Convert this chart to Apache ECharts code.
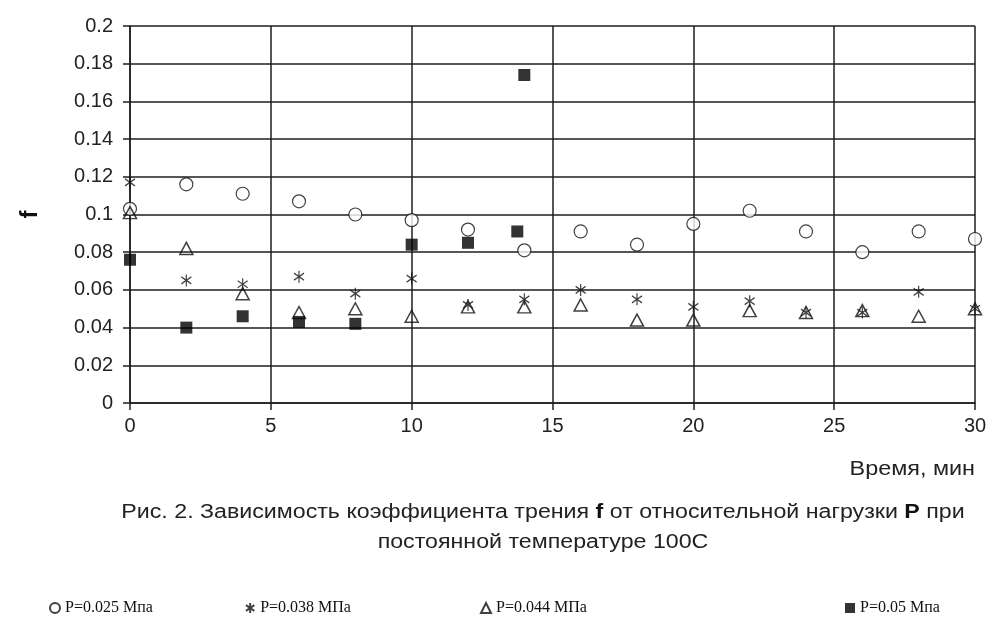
<!DOCTYPE html>
<html>
<head>
<meta charset="utf-8">
<script src="https://cdn.jsdelivr.net/npm/echarts@6/dist/echarts.min.js"></script>
<style>html,body{margin:0;padding:0;background:#fff}#c{width:990px;height:621px}</style>
</head>
<body>
<div id="c"></div>
<script>
// ---- data ----
const times = [0, 2, 4, 6, 8, 10, 12, 14, 16, 18, 20, 22, 24, 26, 28, 30];
const f025 = [0.103, 0.116, 0.111, 0.107, 0.100, 0.097, 0.092, 0.081, 0.091, 0.084, 0.095, 0.102, 0.091, 0.080, 0.091, 0.087];
const f038 = [0.117, 0.065, 0.063, 0.067, 0.058, 0.066, 0.052, 0.055, 0.060, 0.055, 0.051, 0.054, 0.048, 0.048, 0.059, 0.050];
const f044 = [0.101, 0.082, 0.058, 0.048, 0.050, 0.046, 0.051, 0.051, 0.052, 0.044, 0.044, 0.049, 0.048, 0.049, 0.046, 0.050];
const times05 = [0, 2, 4, 6, 8, 10, 12, 13.75, 14];
const f05 = [0.076, 0.040, 0.046, 0.043, 0.042, 0.084, 0.085, 0.091, 0.174];
const seriesNames = ['P=0.025 Мпа', 'P=0.038 МПа', 'P=0.044 МПа', 'P=0.05 Мпа'];
const xTicks = [0, 5, 10, 15, 20, 25, 30];
const yTicks = [0, 0.02, 0.04, 0.06, 0.08, 0.1, 0.12, 0.14, 0.16, 0.18, 0.2];
const xTitle = 'Время, мин';
const yTitle = 'f';

const zip = (xs, ys) => xs.map((x, i) => [x, ys[i]]);
const starPath = 'path://M5,0L5,12M0,2.5L10,9.5M0,9.5L10,2.5';
const gridColor = '#1e1e1e';
const sans = 'Liberation Sans, Arial, sans-serif';
const serif = 'Liberation Serif, Times New Roman, serif';

const chart = echarts.init(document.getElementById('c'), null, {renderer: 'canvas'});
const legendCommon = {
  bottom: 0, itemWidth: 10, itemHeight: 10, itemGap: 4,
  textStyle: {fontFamily: serif, fontSize: 16, color: '#111'}, selectedMode: false
};
chart.setOption({
  animation: false,
  backgroundColor: '#fff',
  grid: {left: 130, right: 15, top: 26, bottom: 218, containLabel: false},
  xAxis: {
    type: 'value', min: 0, max: 30, interval: 5,
    axisLine: {show: true, onZero: false, lineStyle: {color: gridColor, width: 1.5}},
    axisTick: {show: true, length: 7, inside: false, lineStyle: {color: gridColor, width: 1.5}},
    splitLine: {show: true, lineStyle: {color: gridColor, width: 1.5}},
    axisLabel: {fontFamily: sans, fontSize: 20, color: '#222', margin: 13,
      formatter: v => xTicks.includes(v) ? String(v) : ''}
  },
  yAxis: {
    type: 'value', min: 0, max: 0.2, interval: 0.02,
    name: yTitle, nameLocation: 'middle', nameGap: 88, nameRotate: 90,
    nameTextStyle: {fontFamily: sans, fontSize: 24, fontWeight: 'bold', color: '#111'},
    axisLine: {show: true, onZero: false, lineStyle: {color: gridColor, width: 1.5}},
    axisTick: {show: true, length: 7, lineStyle: {color: gridColor, width: 1.5}},
    splitLine: {show: true, lineStyle: {color: gridColor, width: 1.5}},
    axisLabel: {fontFamily: sans, fontSize: 20, color: '#222', margin: 17,
      formatter: v => { const t = yTicks.find(k => Math.abs(k - v) < 1e-9); return t === undefined ? '' : String(+t.toFixed(2)); }}
  },
  legend: [
    Object.assign({}, legendCommon, {left: 44, data: [seriesNames[0]]}),
    Object.assign({}, legendCommon, {left: 240, data: [seriesNames[1]]}),
    Object.assign({}, legendCommon, {left: 475, data: [seriesNames[2]]}),
    Object.assign({}, legendCommon, {left: 840, data: [seriesNames[3]]})
  ],
  graphic: [
    {type: 'text', x: 975, y: 459, scaleX: 1.17, originX: 0, style: {text: xTitle, align: 'right', fontFamily: sans, fontSize: 20, fill: '#222'}},
    {type: 'text', x: 543, y: 497, scaleX: 1.16, style: {
      text: '{n|Рис. 2. Зависимость коэффициента трения }{b|f}{n| от относительной нагрузки }{b|P}{n| при}\n{n|постоянной температуре 100С}',
      align: 'center', verticalAlign: 'top', lineHeight: 30,
      rich: {
        n: {fontFamily: sans, fontSize: 20, fill: '#222', lineHeight: 30},
        b: {fontFamily: sans, fontSize: 20, fontWeight: 'bold', fill: '#111', lineHeight: 30}
      }
    }}
  ],
  series: [
    {name: seriesNames[0], type: 'scatter', data: zip(times, f025), symbol: 'circle', symbolSize: 13,
      itemStyle: {color: '#fff', borderColor: '#111', borderWidth: 1.2}, z: 3},
    {name: seriesNames[1], type: 'scatter', data: zip(times, f038), symbol: starPath, symbolSize: [10, 12],
      itemStyle: {color: 'rgba(0,0,0,0)', borderColor: '#111', borderWidth: 1.3}, z: 4},
    {name: seriesNames[2], type: 'scatter', data: zip(times, f044), symbol: 'triangle', symbolSize: [13, 12],
      itemStyle: {color: 'rgba(255,255,255,0)', borderColor: '#111', borderWidth: 1.5}, z: 3},
    {name: seriesNames[3], type: 'scatter', data: zip(times05, f05), symbol: 'rect', symbolSize: 12,
      itemStyle: {color: '#000', borderColor: '#000', borderWidth: 0}, z: 5}
  ]
});
</script>
</body>
</html>
